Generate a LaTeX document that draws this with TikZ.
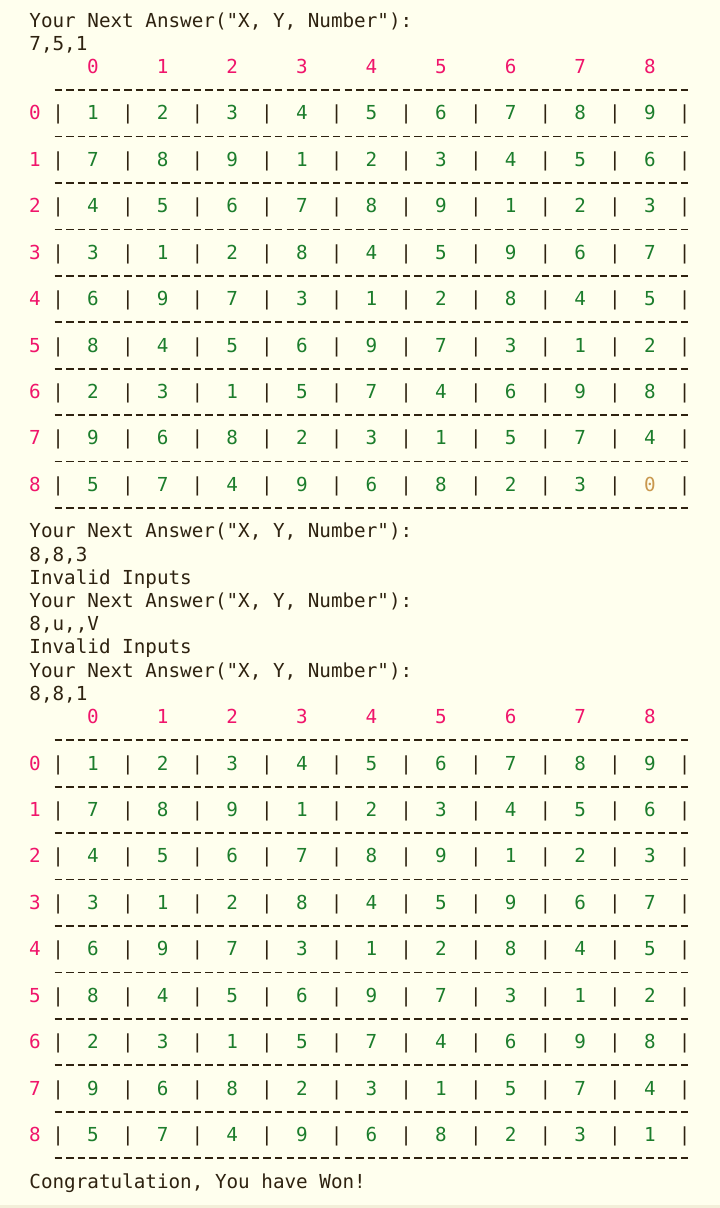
\documentclass[tikz,border=0pt]{standalone}
\usepackage{fontspec}
\setmonofont{DejaVu Sans Mono}
\definecolor{termbg}{HTML}{FFFFEE}
\definecolor{termedge}{HTML}{F3EFD9}
\definecolor{termtext}{HTML}{2E2210}
\definecolor{labpink}{HTML}{F0156B}
\definecolor{numgreen}{HTML}{1C7D2C}
\definecolor{emptytan}{HTML}{C9984E}
\newcommand{\colx}[1]{29.2+(#1+0.5)*11.6}
\newcommand{\liney}[1]{27+23.22*#1}
\newcommand{\emptycell}{\textcolor{emptytan}{0}}
\newcommand{\boardrule}[1]{\draw[dashrule] (54.5,{\liney{#1}-6.6}) -- (688.3,{\liney{#1}-6.6});}
\newcommand{\boardhead}[2]{\foreach \c in {0,...,8} {\node[rowlab] (#1-h\c) at ({\colx{5+6*\c}}, {\liney{#2}}) {\c};}}
\newcommand{\boardrow}[4]{\node[rowlab] (#1-r#3) at ({\colx{0}}, {\liney{#2}}) {#3};
  \foreach \c in {0,...,9} {\node[bar] (#1-bar#3-\c) at ({\colx{2+6*\c}}, {\liney{#2}}) {|};}
  \foreach \d [count=\c from 0] in {#4} {\node[cellnum] (#1-c#3-\c) at ({\colx{5+6*\c}}, {\liney{#2}}) {\d};}}

\begin{document}
\begin{tikzpicture}[x=1pt, y=-1pt,
    every node/.style={font=\ttfamily\fontsize{19.27}{23}\selectfont, inner sep=0pt, anchor=base},
    termline/.style={text=termtext, anchor=base west},
    rowlab/.style={text=labpink},
    bar/.style={text=termtext},
    cellnum/.style={text=numgreen},
    dashrule/.style={draw=termtext, line width=1.7pt, dash pattern=on 7.4pt off 4.2pt}]
            \fill[termbg] (0,0) rectangle (720,1208);
            \useasboundingbox (0,0) rectangle (720,1208);
            \fill[termedge] (0,1205) rectangle (720,1208);
            % first answer
            \node[termline] (ask1) at (29.2, {\liney{0}}) {Your Next Answer("X, Y, Number"):};
            \node[termline] (in1) at (29.2, {\liney{1}}) {7,5,1};
            % board before the last move
            \boardhead{a}{2}
            \boardrule{3}
            \boardrow{a}{4}{0}{1,2,3,4,5,6,7,8,9}
            \boardrule{5}
            \boardrow{a}{6}{1}{7,8,9,1,2,3,4,5,6}
            \boardrule{7}
            \boardrow{a}{8}{2}{4,5,6,7,8,9,1,2,3}
            \boardrule{9}
            \boardrow{a}{10}{3}{3,1,2,8,4,5,9,6,7}
            \boardrule{11}
            \boardrow{a}{12}{4}{6,9,7,3,1,2,8,4,5}
            \boardrule{13}
            \boardrow{a}{14}{5}{8,4,5,6,9,7,3,1,2}
            \boardrule{15}
            \boardrow{a}{16}{6}{2,3,1,5,7,4,6,9,8}
            \boardrule{17}
            \boardrow{a}{18}{7}{9,6,8,2,3,1,5,7,4}
            \boardrule{19}
            \boardrow{a}{20}{8}{5,7,4,9,6,8,2,3,\emptycell}
            \boardrule{21}
            % wrong answers
            \node[termline] (ask2) at (29.2, {\liney{22}}) {Your Next Answer("X, Y, Number"):};
            \node[termline] (in2) at (29.2, {\liney{23}}) {8,8,3};
            \node[termline] (err2) at (29.2, {\liney{24}}) {Invalid Inputs};
            \node[termline] (ask3) at (29.2, {\liney{25}}) {Your Next Answer("X, Y, Number"):};
            \node[termline] (in3) at (29.2, {\liney{26}}) {8,u,\kern0pt,V};
            \node[termline] (err3) at (29.2, {\liney{27}}) {Invalid Inputs};
            \node[termline] (ask4) at (29.2, {\liney{28}}) {Your Next Answer("X, Y, Number"):};
            \node[termline] (in4) at (29.2, {\liney{29}}) {8,8,1};
            % solved board
            \boardhead{b}{30}
            \boardrule{31}
            \boardrow{b}{32}{0}{1,2,3,4,5,6,7,8,9}
            \boardrule{33}
            \boardrow{b}{34}{1}{7,8,9,1,2,3,4,5,6}
            \boardrule{35}
            \boardrow{b}{36}{2}{4,5,6,7,8,9,1,2,3}
            \boardrule{37}
            \boardrow{b}{38}{3}{3,1,2,8,4,5,9,6,7}
            \boardrule{39}
            \boardrow{b}{40}{4}{6,9,7,3,1,2,8,4,5}
            \boardrule{41}
            \boardrow{b}{42}{5}{8,4,5,6,9,7,3,1,2}
            \boardrule{43}
            \boardrow{b}{44}{6}{2,3,1,5,7,4,6,9,8}
            \boardrule{45}
            \boardrow{b}{46}{7}{9,6,8,2,3,1,5,7,4}
            \boardrule{47}
            \boardrow{b}{48}{8}{5,7,4,9,6,8,2,3,1}
            \boardrule{49}
            \node[termline] (won) at (29.2, {\liney{50}}) {Congratulation, You have Won!};
        \end{tikzpicture}
\end{document}
